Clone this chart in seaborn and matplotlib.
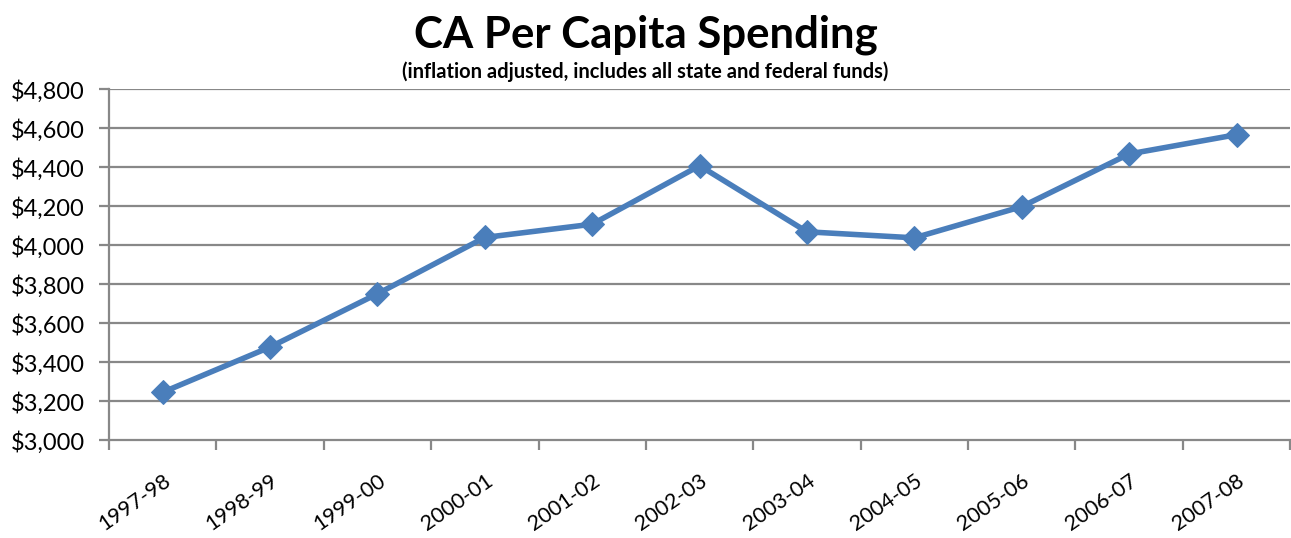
import numpy as np
import pandas as pd
import matplotlib
matplotlib.use("Agg")
import matplotlib.pyplot as plt
import seaborn as sns
from matplotlib.ticker import FuncFormatter, FixedLocator

# data
years = ['1997-98', '1998-99', '1999-00', '2000-01', '2001-02', '2002-03',
         '2003-04', '2004-05', '2005-06', '2006-07', '2007-08']
spending = [3245, 3477, 3750, 4039, 4107, 4407, 4068, 4037, 4197, 4467, 4566]
y_ticks = [3000, 3200, 3400, 3600, 3800, 4000, 4200, 4400, 4600, 4800]

df = pd.DataFrame({'year': years, 'spending': spending, 'pos': np.arange(len(years))})

sns.set_theme(style='white')
plt.rcParams['font.family'] = ['Lato', 'DejaVu Sans']
plt.rcParams['text.color'] = 'black'

fig = plt.figure(figsize=(12.91, 5.38), dpi=100)
ax = fig.add_axes([0.0844, 0.182, 0.915, 0.6525])

grid_col = '#888888'
for v in y_ticks[1:]:
    ax.axhline(v, color=grid_col, lw=1.6, zorder=0)

sns.lineplot(data=df, x='pos', y='spending', ax=ax, color='#4A7EBB', lw=4,
             marker='D', markersize=12.5, markeredgecolor='#4A7EBB', zorder=3)

ax.set_xlim(-0.5, len(years) - 0.5)
ax.set_ylim(3000, 4800)
ax.set_yticks(y_ticks)
ax.yaxis.set_major_formatter(FuncFormatter(lambda v, p: f'${v:,.0f}'))
ax.set_xticks(df['pos'])
ax.set_xticklabels(years, rotation=35, ha='right', rotation_mode='anchor')
ax.xaxis.set_minor_locator(FixedLocator(np.arange(-0.5, len(years), 1.0)))
ax.tick_params(axis='x', which='major', length=0, pad=22, labelsize=15.5, labelcolor='black')
ax.tick_params(axis='x', which='minor', length=7, width=1.6, color=grid_col, direction='out', bottom=True)
ax.tick_params(axis='y', which='major', length=7, width=1.6, color=grid_col, direction='out',
               left=True, labelsize=17, pad=10.5, labelcolor='black')

for s in ['top', 'right']:
    ax.spines[s].set_visible(False)
for s in ['left', 'bottom']:
    ax.spines[s].set_color(grid_col)
    ax.spines[s].set_linewidth(1.6)

ax.set_xlabel('')
ax.set_ylabel('')

fig.text(0.5, 0.935, 'CA Per Capita Spending', ha='center', va='center',
         fontsize=31.5, fontweight='bold', color='black')
fig.text(0.5, 0.866, '(inflation adjusted, includes all state and federal funds)',
         ha='center', va='center', fontsize=14.5, fontweight='bold', color='black')

fig.savefig('out.png', dpi=100)
